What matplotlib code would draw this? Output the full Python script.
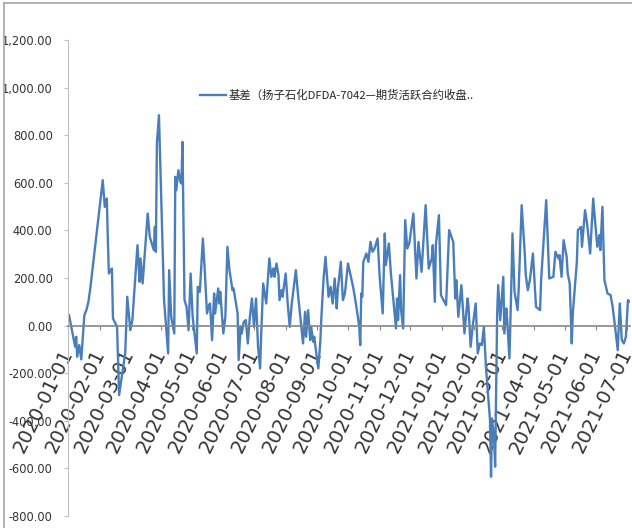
import matplotlib
matplotlib.use("Agg")
import matplotlib.pyplot as plt
import matplotlib.font_manager as fm
from matplotlib.lines import Line2D
import pandas as pd

# basis series (yuan/ton)
dates_2020 = [
    "01-02", "01-08", "01-09", "01-10", "01-12", "01-14", "01-17", "01-19", "01-21", "01-23",
    "02-04", "02-06", "02-08", "02-09", "02-10", "02-13", "02-14", "02-18", "02-20", "02-26",
    "02-28", "03-02", "03-04", "03-09", "03-11", "03-12", "03-14", "03-19", "03-21", "03-25",
    "03-26", "03-27", "03-28", "03-30", "04-04", "04-08", "04-09", "04-11", "04-14", "04-15",
    "04-16", "04-18", "04-20", "04-21", "04-22", "04-24", "04-26", "04-28", "04-30", "05-02",
    "05-06", "05-07", "05-09", "05-12", "05-14", "05-16", "05-18", "05-19", "05-21", "05-23",
    "05-24", "05-27", "05-28", "05-29", "06-01", "06-03", "06-05", "06-07", "06-10", "06-11",
    "06-15", "06-16", "06-18", "06-19", "06-21", "06-23", "06-25", "06-27", "06-29", "07-01",
    "07-03", "07-05", "07-07", "07-08", "07-10", "07-13", "07-16", "07-18", "07-20", "07-21",
    "07-23", "07-25", "07-26", "07-28", "07-29", "08-01", "08-03", "08-05", "08-07", "08-11",
    "08-13", "08-16", "08-18", "08-20", "08-21", "08-23", "08-25", "08-26", "08-28", "08-29",
    "08-31", "09-02", "09-04", "09-05", "09-07", "09-09", "09-12", "09-14", "09-16", "09-18",
    "09-20", "09-21", "09-24", "09-26", "09-28", "10-01", "10-06", "10-09", "10-12", "10-13",
    "10-14", "10-15", "10-16", "10-19", "10-21", "10-23", "10-25", "10-27", "10-30", "11-01",
    "11-04", "11-06", "11-07", "11-10", "11-12", "11-17", "11-18", "11-19", "11-21", "11-22",
    "11-24", "11-26", "11-28", "11-30", "12-04", "12-07", "12-09", "12-12", "12-16", "12-19",
    "12-22", "12-23", "12-25", "12-26", "12-29", "12-31",
]
basis_2020 = [
    44, -89, -47, -131, -82, -142, 44, 65, 100, 163,
    611, 499, 534, 359, 219, 240, 30, -5, -292, -116,
    121, -19, 23, 338, 184, 282, 177, 471, 373, 317,
    415, 310, 765, 884, 107, -117, 233, 37, -33, 625,
    569, 653, 604, 597, 772, 107, 79, -19, 219, 37,
    -117, 163, 142, 366, 219, 51, 86, 93, -61, 135,
    51, 156, 93, 142, -33, 37, 331, 233, 149, 156,
    51, -145, -5, -33, 16, 23, -75, 37, 114, -5,
    114, -89, -180, -47, 177, 93, 282, 205, 240, 205,
    261, 212, 107, 149, 121, 219, 93, -5, 93, 233,
    135, 9, -75, 58, -47, 65, -61, -5, -68, -47,
    -117, -180, -61, 37, 191, 289, 121, 163, 93, 198,
    72, 149, 268, 107, 135, 261, 163, 86, -5, -82,
    135, 121, 268, 303, 268, 352, 310, 324, 366, 205,
    51, 387, 254, 345, 219, -12, 114, 23, 212, 65,
    -12, 443, 324, 345, 471, 198, 352, 226, 506, 240,
    282, 338, 100, 338, 464, 128,
]
dates_2021 = [
    "01-05", "01-08", "01-12", "01-14", "01-15", "01-17", "01-20", "01-23", "01-26", "01-27",
    "01-29", "01-31", "02-03", "02-05", "02-07", "02-09", "02-11", "02-13", "02-17", "02-18",
    "02-19", "02-21", "02-22", "02-24", "02-25", "02-27", "03-02", "03-03", "03-05", "03-06",
    "03-08", "03-10", "03-11", "03-13", "03-16", "03-17", "03-20", "03-23", "03-24", "03-26",
    "03-28", "03-31", "04-03", "04-07", "04-08", "04-13", "04-16", "04-20", "04-22", "04-25",
    "04-26", "04-28", "04-30", "05-03", "05-04", "05-06", "05-08", "05-09", "05-13", "05-14",
    "05-17", "05-18", "05-21", "05-23", "05-26", "05-29", "05-31", "06-02", "06-04", "06-05",
    "06-07", "06-09", "06-12", "06-15", "06-17", "06-19", "06-22", "06-24", "06-26", "06-28",
    "06-30", "07-02", "07-04",
]
basis_2021 = [
    86, 401, 352, 114, 191, 37, 170, -33, 114, 79,
    -89, -5, 93, -117, -75, -82, -5, -173, -397, -635,
    -390, -481, -593, 51, 170, 23, 205, -33, 72, 9,
    -138, 191, 387, 142, 65, 149, 506, 303, 212, 149,
    191, 303, 79, 65, 191, 527, 198, 205, 310, 282,
    296, 205, 359, 289, 219, 177, -75, 51, 268, 401,
    415, 331, 485, 429, 303, 534, 429, 331, 380, 317,
    499, 191, 135, 128, 79, 9, -103, 93, -61, -75,
    -47, 107, 100,
]
y_ticks = [-800, -600, -400, -200, 0, 200, 400, 600, 800, 1000, 1200]
month_ticks = pd.date_range("2020-01-01", "2021-07-01", freq="MS")
series_label = "基差（扬子石化DFDA-7042—期货活跃合约收盘.."

dates = pd.to_datetime(["2020-" + d for d in dates_2020] + ["2021-" + d for d in dates_2021])
basis = basis_2020 + basis_2021


def narrow_font():
    # look for any condensed / narrow sans face, the source chart uses squeezed text
    for f in fm.fontManager.ttflist:
        tag = (f.name + " " + str(f.stretch)).lower()
        if ("narrow" in tag or "condensed" in tag) and f.style == "normal" \
                and f.weight in (400, "normal", "regular") and "mono" not in tag \
                and "serif" not in tag.replace("sans", ""):
            return fm.FontProperties(fname=f.fname)
    return None


W, H = 632, 528
fig = plt.figure(figsize=(W / 100, H / 100), dpi=100)
ax = fig.add_axes([68 / W, 12 / H, (630 - 68) / W, (516 - 40) / H])

line, = ax.plot(dates, basis, color="#4a7ebb", lw=1.7, label=series_label)

ax.set_xlim(pd.Timestamp("2020-01-01"), pd.Timestamp("2021-07-04"))
ax.set_ylim(-800, 1200)

for s in ("top", "right"):
    ax.spines[s].set_visible(False)
ax.spines["left"].set_color("#bfbfbf")
ax.spines["left"].set_linewidth(0.8)
ax.spines["bottom"].set_position(("data", 0))
ax.spines["bottom"].set_color("#868686")
ax.spines["bottom"].set_linewidth(1.2)

nf = narrow_font()
ylabels = [f"{v:,.2f}" for v in y_ticks]
ax.set_yticks(y_ticks)
if nf is not None:
    nf.set_size(9.2)
    ax.set_yticklabels(ylabels, fontproperties=nf, color="#333333")
else:
    ax.set_yticklabels(ylabels, family="Liberation Sans", fontsize=9, color="#333333")
ax.tick_params(axis="y", length=3, color="#bfbfbf", pad=8)

ax.set_xticks(month_ticks)
ax.set_xticklabels(
    [d.strftime("%Y-%m-%d") for d in month_ticks],
    family="DejaVu Sans", fontsize=14, color="#333333",
    rotation=64, ha="right", va="center", rotation_mode="anchor",
)
ax.tick_params(axis="x", length=3, color="#868686", pad=15)

leg = fig.legend(
    handles=[line],
    loc="center left",
    bbox_to_anchor=(200 / W, 1 - 95 / H),
    frameon=False,
    borderpad=0,
    borderaxespad=0,
    handlelength=2.3,
    handletextpad=0.2,
    prop={"family": ["Noto Sans CJK SC", "DejaVu Sans"], "size": 8.2},
)
for t in leg.get_texts():
    t.set_color("#262626")

# chart frame (only top and left edges are inside the crop)
fig.add_artist(Line2D([4 / W, 4 / W], [0, 1 - 3 / H], transform=fig.transFigure,
                      color="#a6a6a6", lw=1.2))
fig.add_artist(Line2D([4 / W, 1], [1 - 3 / H, 1 - 3 / H], transform=fig.transFigure,
                      color="#a6a6a6", lw=1.2))

fig.savefig("out.png", dpi=100)
